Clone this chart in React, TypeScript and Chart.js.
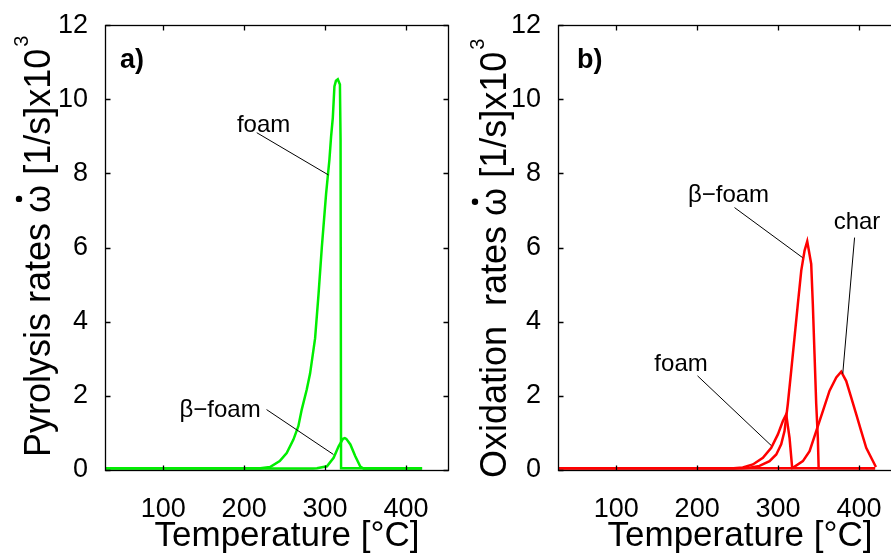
import React, { useEffect, useRef } from "react";
import { Chart, registerables } from "chart.js";

Chart.register(...registerables);

// ---------- axes ----------
const X_TICKS = [100, 200, 300, 400];
const Y_TICKS = [0, 2, 4, 6, 8, 10, 12];
const X_MIN = 28;
const X_MAX = 452;
const Y_MIN = 0;
const Y_MAX = 12;
const X_TITLE = "Temperature [°C]";

// ---------- panel a: pyrolysis (green) ----------
const A_FOAM_T = [28, 220, 232, 244, 252.6, 260.9, 267, 271.2, 277.4, 281.5, 287.7, 292, 296, 301.3, 305.4, 307.5, 309.6, 311.6, 313.5, 315.8, 318.4, 319.2, 319.8, 420];
const A_FOAM_V = [0.05, 0.05, 0.08, 0.24, 0.46, 0.82, 1.18, 1.63, 2.17, 2.6, 3.55, 4.75, 6.0, 7.45, 8.37, 9.0, 9.5, 10.35, 10.5, 10.54, 10.4, 8.9, 0.05, 0.05];
const A_BFOAM_T = [28, 285, 290, 302.4, 310.6, 316.8, 322.2, 324.5, 326.3, 331.3, 337.4, 343.6, 347.7, 420];
const A_BFOAM_V = [0.04, 0.04, 0.05, 0.1, 0.33, 0.64, 0.84, 0.86, 0.84, 0.69, 0.37, 0.09, 0.04, 0.04];

// ---------- panel b: oxidation (red) ----------
const B_FOAM_T = [28, 245, 256.5, 268.9, 281.3, 291.6, 299.8, 306, 310.1, 314.2, 317.5, 420];
const B_FOAM_V = [0.05, 0.05, 0.07, 0.15, 0.33, 0.6, 0.96, 1.32, 1.5, 0.87, 0.05, 0.05];
const B_BFOAM_T = [28, 255, 264.8, 277.1, 289.5, 297.8, 303.9, 308, 312.1, 316.3, 320.4, 324.5, 328.7, 332.8, 336.1, 341, 343, 345.1, 347.2, 349.2, 350.2, 420];
const B_BFOAM_V = [0.05, 0.05, 0.06, 0.11, 0.24, 0.42, 0.69, 1.05, 1.78, 2.68, 3.58, 4.48, 5.38, 5.92, 6.17, 5.56, 4.48, 3.13, 1.78, 0.87, 0.05, 0.05];
const B_CHAR_T = [28, 316, 318.3, 330.7, 339, 347.2, 355.4, 363.7, 372, 378.1, 384.3, 390.5, 396.7, 402.8, 409, 415.2, 421];
const B_CHAR_V = [0.05, 0.05, 0.06, 0.24, 0.51, 1.05, 1.59, 2.14, 2.5, 2.65, 2.4, 1.95, 1.5, 1.05, 0.6, 0.33, 0.08];

// ---------- annotations (text anchor + leader line, data units) ----------
const A_NOTES = [
  { text: "foam", at: [224, 9.12], line: [215.6, 9.1, 304.2, 7.96] },
  { text: "β−foam", at: [170.2, 1.42], line: [227.7, 1.63, 310.3, 0.42] },
];
const B_NOTES = [
  { text: "β−foam", at: [238.8, 7.22], line: [246.2, 7.08, 330.3, 5.73] },
  { text: "char", at: [397.6, 6.5], line: [394.6, 6.27, 380, 2.6] },
  { text: "foam", at: [180.1, 2.68], line: [200.5, 2.54, 291.6, 0.66] },
];

const GREEN = "#00ee00";
const RED = "#ff0000";
const FONT = "'Liberation Sans', Arial, sans-serif";

const pts = (t: number[], v: number[]) => t.map((x, i) => ({ x, y: v[i] }));

const decorPlugin = {
  id: "decor",
  afterDatasetsDraw(chart: any, _args: any, opts: any) {
    const { ctx, chartArea, scales } = chart;
    const xs = scales.x;
    const ys = scales.y;
    const L = Math.round(chartArea.left) + 0.5;
    const R = Math.round(chartArea.right) + 0.5;
    const T = Math.round(chartArea.top) + 0.5;
    const B = Math.round(chartArea.bottom) + 0.5;
    ctx.save();
    // leader lines and labels
    ctx.strokeStyle = "#000";
    ctx.lineWidth = 1;
    ctx.fillStyle = "#000";
    ctx.font = `24px ${FONT}`;
    ctx.textAlign = "center";
    ctx.textBaseline = "alphabetic";
    for (const n of opts.notes) {
      ctx.beginPath();
      ctx.moveTo(xs.getPixelForValue(n.line[0]), ys.getPixelForValue(n.line[1]));
      ctx.lineTo(xs.getPixelForValue(n.line[2]), ys.getPixelForValue(n.line[3]));
      ctx.stroke();
      ctx.fillText(n.text, xs.getPixelForValue(n.at[0]), ys.getPixelForValue(n.at[1]));
    }
    // box
    ctx.lineWidth = 1.3;
    ctx.strokeStyle = "#000";
    ctx.strokeRect(L, T, R - L, B - T);
    // inward ticks
    const tl = 5;
    ctx.beginPath();
    for (const t of xs.ticks) {
      const px = Math.round(xs.getPixelForValue(t.value)) + 0.5;
      ctx.moveTo(px, B);
      ctx.lineTo(px, B - tl);
      ctx.moveTo(px, T);
      ctx.lineTo(px, T + tl);
    }
    for (const t of ys.ticks) {
      const py = Math.round(ys.getPixelForValue(t.value)) + 0.5;
      ctx.moveTo(L, py);
      ctx.lineTo(L + tl, py);
      ctx.moveTo(R, py);
      ctx.lineTo(R - tl, py);
    }
    ctx.stroke();
    // panel letter
    ctx.font = `bold 27px ${FONT}`;
    ctx.textAlign = "left";
    ctx.fillText(opts.letter, chartArea.left + opts.letterDx, chartArea.top + 43);
    // x title
    ctx.font = `35px ${FONT}`;
    ctx.textAlign = "center";
    ctx.fillText(X_TITLE, chartArea.left + 182, chartArea.bottom + 76);
    // y title (rotated), with dotted omega and superscript
    ctx.translate(chartArea.left - opts.yTitleDx, chartArea.bottom + opts.yTitleDy);
    ctx.rotate(-Math.PI / 2);
    ctx.textAlign = "left";
    ctx.font = `36px ${FONT}`;
    const [pre, omega, post, sup] = opts.yTitle;
    ctx.fillText(pre + omega + post, 0, 0);
    const wPre = ctx.measureText(pre).width;
    const wOm = ctx.measureText(omega).width;
    const wAll = ctx.measureText(pre + omega + post).width;
    ctx.beginPath();
    ctx.arc(wPre + wOm / 2, -31, 3.2, 0, Math.PI * 2);
    ctx.fill();
    ctx.font = `20px ${FONT}`;
    ctx.fillText(sup, wAll + 2, -22);
    ctx.restore();
  },
};

function Panel(props: { left: number; series: { t: number[]; v: number[]; color: string }[]; decor: any }) {
  const ref = useRef<HTMLCanvasElement | null>(null);
  useEffect(() => {
    if (!ref.current) return;
    const chart = new Chart(ref.current, {
      type: "line",
      data: {
        datasets: props.series.map((s) => ({
          data: pts(s.t, s.v),
          borderColor: s.color,
          backgroundColor: s.color,
          borderWidth: 2.5,
          pointRadius: 0,
          tension: 0,
          fill: false,
        })),
      },
      options: {
        animation: false,
        responsive: false,
        maintainAspectRatio: false,
        layout: { padding: { left: 0, top: 25, right: 12, bottom: 0 } },
        plugins: {
          legend: { display: false },
          tooltip: { enabled: false },
          decor: props.decor,
        } as any,
        scales: {
          x: {
            type: "linear",
            min: X_MIN,
            max: X_MAX,
            afterBuildTicks: (s: any) => {
              s.ticks = X_TICKS.map((value) => ({ value }));
            },
            afterFit: (s: any) => {
              s.height = 88;
            },
            grid: { display: false },
            border: { display: false },
            ticks: {
              color: "#000",
              font: { family: FONT, size: 27 },
              padding: 15,
              maxRotation: 0,
              autoSkip: false,
            },
          },
          y: {
            type: "linear",
            min: Y_MIN,
            max: Y_MAX,
            afterBuildTicks: (s: any) => {
              s.ticks = Y_TICKS.map((value) => ({ value }));
            },
            afterFit: (s: any) => {
              s.width = 105;
            },
            grid: { display: false },
            border: { display: false },
            ticks: {
              color: "#000",
              font: { family: FONT, size: 27 },
              padding: 9,
              autoSkip: false,
            },
          },
        },
      } as any,
      plugins: [decorPlugin],
    });
    return () => chart.destroy();
  }, []);
  return (
    <canvas
      ref={ref}
      width={460}
      height={558}
      style={{ position: "absolute", left: props.left, top: 0, width: 460, height: 558 }}
    />
  );
}

export default function App() {
  return (
    <div
      style={{
        position: "fixed",
        left: 0,
        top: 0,
        width: 891,
        height: 558,
        overflow: "hidden",
        background: "#fff",
      }}
    >
      <Panel
        left={0}
        series={[
          { t: A_FOAM_T, v: A_FOAM_V, color: GREEN },
          { t: A_BFOAM_T, v: A_BFOAM_V, color: GREEN },
        ]}
        decor={{
          notes: A_NOTES,
          letter: "a)",
          letterDx: 15,
          yTitleDx: 55,
          yTitleDy: -13,
          yTitle: ["Pyrolysis rates ", "ω", " [1/s]x10", "3"],
        }}
      />
      <Panel
        left={453}
        series={[
          { t: B_FOAM_T, v: B_FOAM_V, color: RED },
          { t: B_BFOAM_T, v: B_BFOAM_V, color: RED },
          { t: B_CHAR_T, v: B_CHAR_V, color: RED },
        ]}
        decor={{
          notes: B_NOTES,
          letter: "b)",
          letterDx: 19,
          yTitleDx: 52,
          yTitleDy: 8,
          yTitle: ["Oxidation  rates ", "ω", " [1/s]x10", "3"],
        }}
      />
    </div>
  );
}
